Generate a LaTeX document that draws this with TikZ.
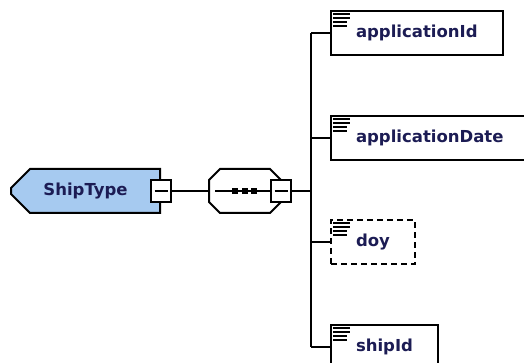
\documentclass[tikz,border=0pt]{standalone}
\usepackage{fontspec}
\setmainfont{DejaVu Sans}
\usetikzlibrary{shapes.misc}
\definecolor{typefill}{RGB}{166,202,240}
\definecolor{namenavy}{RGB}{28,28,84}

\begin{document}
\begin{tikzpicture}[x=1pt, y=-1pt, line width=2pt,
  font=\bfseries\fontsize{16.5}{19}\selectfont,
  typebox/.style={draw, fill=typefill, chamfered rectangle, chamfered rectangle sep=11pt,
    chamfered rectangle corners={north west, south west}, inner sep=0pt,
    minimum width=149pt, minimum height=44pt, text=namenavy},
  seqbox/.style={inner sep=0pt, minimum width=70pt, minimum height=42pt},
  minusbox/.style={draw, fill=white, inner sep=0pt, minimum width=20pt, minimum height=22pt},
  elem/.style={draw, fill=white, anchor=west, inner xsep=25pt, inner ysep=0pt,
    minimum height=44pt, text=namenavy},
  optelem/.style={elem, dash pattern=on 6pt off 4pt}]

  \useasboundingbox (0,0) rectangle (524,363);

  % Complex type and its sequence
  \node[typebox] (shiptype) at (85.5,191) {ShipType};
  \node[minusbox] (typeminus) at (shiptype.east) {\rule{13pt}{2pt}};
  \node[seqbox] (seq) at (245,191) {};
  \draw[fill=white] ([xshift=11pt]seq.north west) -- ([xshift=-11pt]seq.north east)
    -- ([yshift=-11pt]seq.north east) -- ([yshift=11pt]seq.south east)
    -- ([xshift=-11pt]seq.south east) -- ([xshift=11pt]seq.south west)
    -- ([yshift=11pt]seq.south west) -- ([yshift=-11pt]seq.north west) -- cycle;
  \node[minusbox] (seqminus) at (seq.east) {\rule{13pt}{2pt}};
  \draw (typeminus.east) -- (seq.west);
  \draw ([xshift=6pt]seq.west) -- (seqminus.west);
  \foreach \dx in {-10.5,-0.5,9}
    \fill ([xshift=\dx pt]seq.center) +(-3,-3) rectangle +(3,3);

  % Child elements
  \node[elem] (appid) at (330,33) {applicationId};
  \node[elem] (appdate) at (330,138) {applicationDate};
  \node[optelem] (doy) at (330,242) {doy};
  \node[elem] (shipid) at (330,347) {shipId};
  \foreach \n in {appid,appdate,doy,shipid}
    \foreach \dy/\len in {4/17,8/17,12/14,16/14}
      \draw[dash pattern=] ([shift={(3,\dy)}]\n.north west) -- ++(\len,0);

  % Connectors
  \coordinate (trunk) at (311,191);
  \draw (seqminus.east) -- (trunk);
  \draw (trunk |- appid.west) -- (trunk |- shipid.west);
  \foreach \n in {appid,appdate,doy,shipid}
    \draw (trunk |- \n.west) -- (\n.west);

\end{tikzpicture}
\end{document}
